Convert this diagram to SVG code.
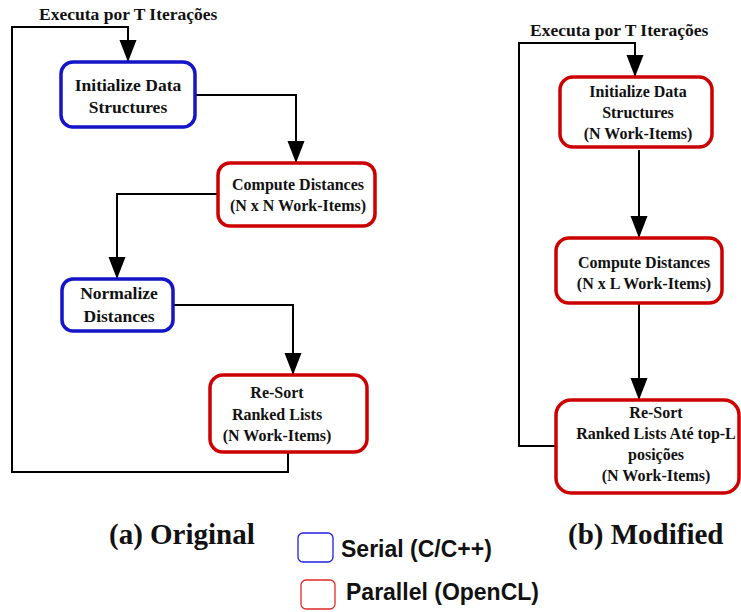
<svg xmlns="http://www.w3.org/2000/svg" width="741" height="612" viewBox="0 0 741 612">
<defs>
<marker id="ah" markerUnits="userSpaceOnUse" markerWidth="22" markerHeight="18" refX="22" refY="8.5" orient="auto">
<path d="M0,0 L22,8.5 L0,17 z" fill="#000"/>
</marker>
<style>
.ser{fill:#fff;stroke:#1414c8;stroke-width:3.5}
.par{fill:#fff;stroke:#cc0000;stroke-width:3.5}
.t{font-family:"Liberation Serif","Times New Roman",serif;font-weight:bold;font-size:16px;fill:#111;text-anchor:middle}
.tb{font-size:17.5px}
.ttl{font-family:"Liberation Serif","Times New Roman",serif;font-weight:bold;font-size:17.5px;fill:#111}
.cap{font-family:"Liberation Serif","Times New Roman",serif;font-weight:bold;font-size:29px;fill:#111}
.leg{font-family:"Liberation Sans",Arial,sans-serif;font-weight:bold;font-size:23px;fill:#111}
.c{fill:none;stroke:#000;stroke-width:2}
</style>
</defs>
<rect width="741" height="612" fill="#fff"/>
<g id="connectors">
<path class="c" d="M288,452 V472 H12 V27 H128 V62" marker-end="url(#ah)"/>
<path class="c" d="M195,95 H296 V163" marker-end="url(#ah)"/>
<path class="c" d="M218,194 H117 V279" marker-end="url(#ah)"/>
<path class="c" d="M173,305 H293 V375" marker-end="url(#ah)"/>
<path class="c" d="M556,446 H519 V43 H635 V77" marker-end="url(#ah)"/>
<path class="c" d="M639,150 V238" marker-end="url(#ah)"/>
<path class="c" d="M639,303 V400" marker-end="url(#ah)"/>
</g>
<text class="ttl" x="39" y="20">Executa por T Iterações</text>
<text class="ttl" x="530" y="36">Executa por T Iterações</text>
<g id="a-init">
<rect class="ser" x="61" y="62" width="134" height="65" rx="12"/>
<text class="t tb" x="128" y="91">Initialize Data</text>
<text class="t tb" x="128" y="113">Structures</text>
</g>
<g id="a-compute">
<rect class="par" x="218" y="163" width="157" height="63" rx="12"/>
<text class="t" x="298" y="190">Compute Distances</text>
<text class="t" x="298" y="211">(N x N Work-Items)</text>
</g>
<g id="a-normalize">
<rect class="ser" x="62" y="279" width="111" height="52" rx="11"/>
<text class="t tb" x="119" y="299">Normalize</text>
<text class="t tb" x="119" y="322">Distances</text>
</g>
<g id="a-resort">
<rect class="par" x="210" y="375" width="157" height="77" rx="13"/>
<text class="t" x="277" y="398">Re-Sort</text>
<text class="t" x="277" y="420">Ranked Lists</text>
<text class="t" x="277" y="441">(N Work-Items)</text>
</g>
<g id="b-init">
<rect class="par" x="560" y="77" width="152" height="70" rx="13"/>
<text class="t" x="638" y="97">Initialize Data</text>
<text class="t" x="638" y="118">Structures</text>
<text class="t" x="638" y="139">(N Work-Items)</text>
</g>
<g id="b-compute">
<rect class="par" x="556" y="238" width="166" height="65" rx="13"/>
<text class="t" x="644" y="268">Compute Distances</text>
<text class="t" x="644" y="289">(N x L Work-Items)</text>
</g>
<g id="b-resort">
<rect class="par" x="556" y="400" width="183" height="93" rx="15"/>
<text class="t" x="656" y="418">Re-Sort</text>
<text class="t" x="656" y="439">Ranked Lists Até top-L</text>
<text class="t" x="656" y="460">posições</text>
<text class="t" x="656" y="481">(N Work-Items)</text>
</g>
<text class="cap" x="109" y="544">(a) Original</text>
<text class="cap" x="568" y="544">(b) Modified</text>
<g id="legend-serial">
<rect x="298" y="533" width="35" height="29" rx="5" fill="#fff" stroke="#2020e0" stroke-width="1.3"/>
<text class="leg" x="341" y="557">Serial (C/C++)</text>
</g>
<g id="legend-parallel">
<rect x="301" y="580" width="34" height="29" rx="5" fill="#fff" stroke="#dd2a2a" stroke-width="1.3"/>
<text class="leg" x="346" y="600">Parallel (OpenCL)</text>
</g>
</svg>
